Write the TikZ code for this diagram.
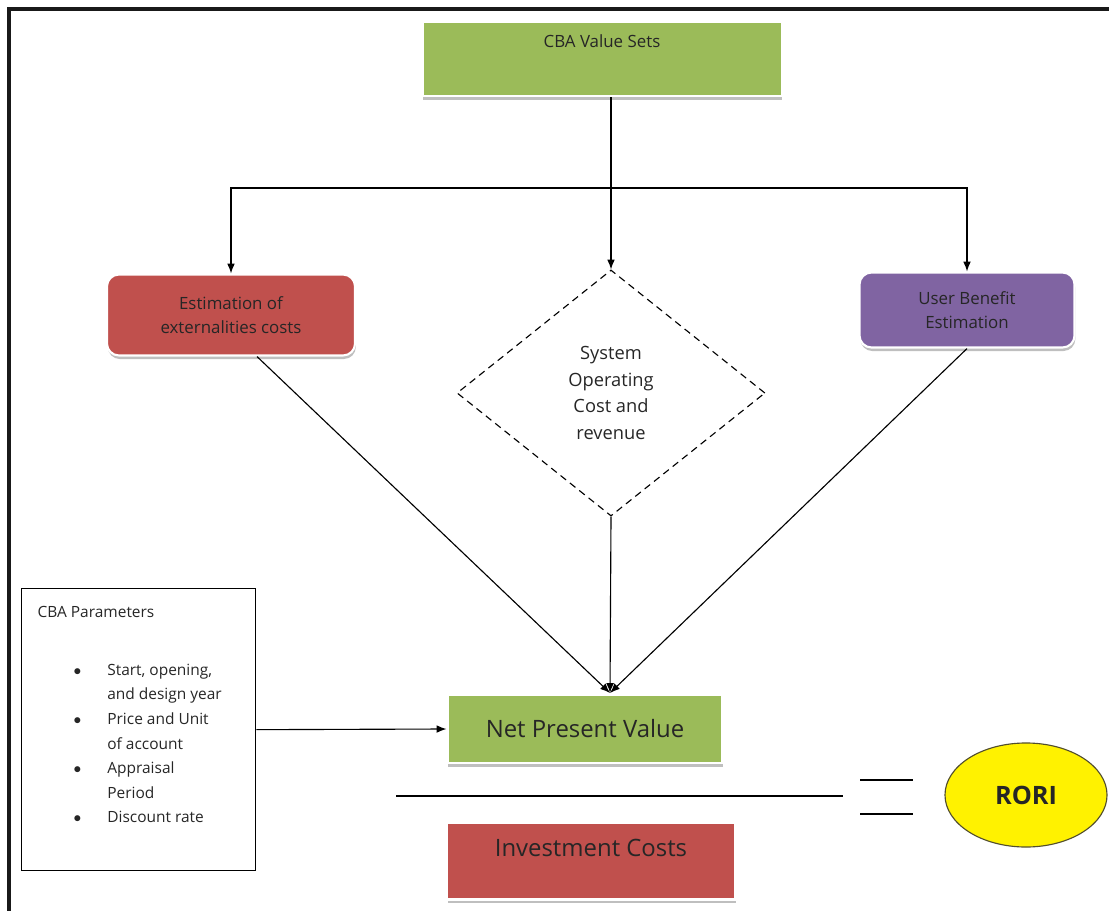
\documentclass[tikz,border=0pt]{standalone}
\usepackage{fontspec}
\setmainfont{Open Sans}
\usetikzlibrary{shapes.geometric,shadows,arrows.meta}
\definecolor{cbagreen}{HTML}{9BBB59}
\definecolor{cbared}{HTML}{C0504D}
\definecolor{cbapurple}{HTML}{8064A2}
\begin{document}
\begin{tikzpicture}[x=0.025cm, y=-0.025cm,
    >={Latex[length=7pt,width=5.5pt]},
    every node/.style={font=\fontsize{12}{17}\selectfont, text=black!85},
    boxed/.style={rectangle, draw=white, line width=1.5pt,
        drop shadow={shadow xshift=0.6pt, shadow yshift=-2.5pt, opacity=0.5}},
    bigtext/.style={font=\fontsize{17}{20}\selectfont},
    link/.style={line width=0.8pt}]
\useasboundingbox (0,0) rectangle (1109,911);
% Frame
\draw[line width=2.2pt, black!90] (9,911) -- (9,9) -- (1109,9);

% Value sets and the three estimations
\node[boxed, fill=cbagreen, minimum width=8.975cm, minimum height=1.85cm,
    inner ysep=0.2cm, text height=0.45cm, text depth=1cm] (sets) at (602,59) {CBA Value Sets};
\node[boxed, fill=cbared, rounded corners=0.3cm, align=center,
    minimum width=6.2cm, minimum height=2.025cm] (est) at (231,315)
    {Estimation of\\externalities costs};
\node[draw, line width=0.8pt, dash pattern=on 5pt off 3.5pt, diamond, align=center,
    font=\fontsize{13}{19}\selectfont,
    minimum width=7.7cm, minimum height=6.15cm, inner sep=0pt] (sys) at (611,393)
    {System\\Operating\\Cost and\\revenue};
\node[boxed, fill=cbapurple, rounded corners=0.3cm, align=center,
    minimum width=5.375cm, minimum height=1.875cm] (ub) at (967,310)
    {User Benefit\\Estimation};

% Ratio
\node[boxed, fill=cbagreen, bigtext, minimum width=6.875cm, minimum height=1.7cm] (npv) at (585,729)
    {Net Present Value};
\node[boxed, fill=cbared, bigtext, minimum width=7.2cm, minimum height=1.925cm,
    inner ysep=0.2cm, text height=0.65cm, text depth=0.875cm] (inv) at (591,861)
    {Investment Costs};
\draw[line width=1.4pt] (396,796) -- (843,796);
\draw[line width=1.4pt] (860,780) -- (913,780);
\draw[line width=1.4pt] (860,814) -- (913,814);
\node[ellipse, draw=black!55!olive, fill=yellow, line width=0.8pt,
    minimum width=4.05cm, minimum height=2.6cm,
    font=\fontsize{18}{20}\selectfont\bfseries] (rori) at (1026,795) {RORI};

% Parameters
\node[draw, line width=0.9pt, anchor=north west, inner xsep=0.4cm, inner ysep=0.3cm,
    font=\fontsize{11}{17.5}\selectfont] (params) at (21,588)
    {\parbox[t][6.45cm][t]{5.05cm}{%
    \begin{tabular}[t]{@{\hspace{0.9cm}}c@{\hspace{0.65cm}}l@{}}
    \multicolumn{2}{@{}l}{CBA Parameters}\\[0.82cm]
    $\bullet$ & Start, opening,\\
              & and design year\\
    $\bullet$ & Price and Unit\\
              & of account\\
    $\bullet$ & Appraisal\\
              & Period\\
    $\bullet$ & Discount rate
    \end{tabular}}};

% Arrows
\coordinate (split) at (611,188);
\coordinate (meet) at (610,693);
\draw[link] (sets.south -| split) -- (split);
\draw[link,->] (split) -| (est.north);
\draw[link,->] (split) -- (sys.north);
\draw[link,->] (split) -| (ub.north);
\draw[link,->] ([xshift=0.65cm]est.south) -- (meet);
\draw[link,->] (sys.south) -- (meet);
\draw[link,->] (ub.south) -- (meet);
\draw[link,->] (params.east) -- (npv.west);
\end{tikzpicture}
\end{document}
